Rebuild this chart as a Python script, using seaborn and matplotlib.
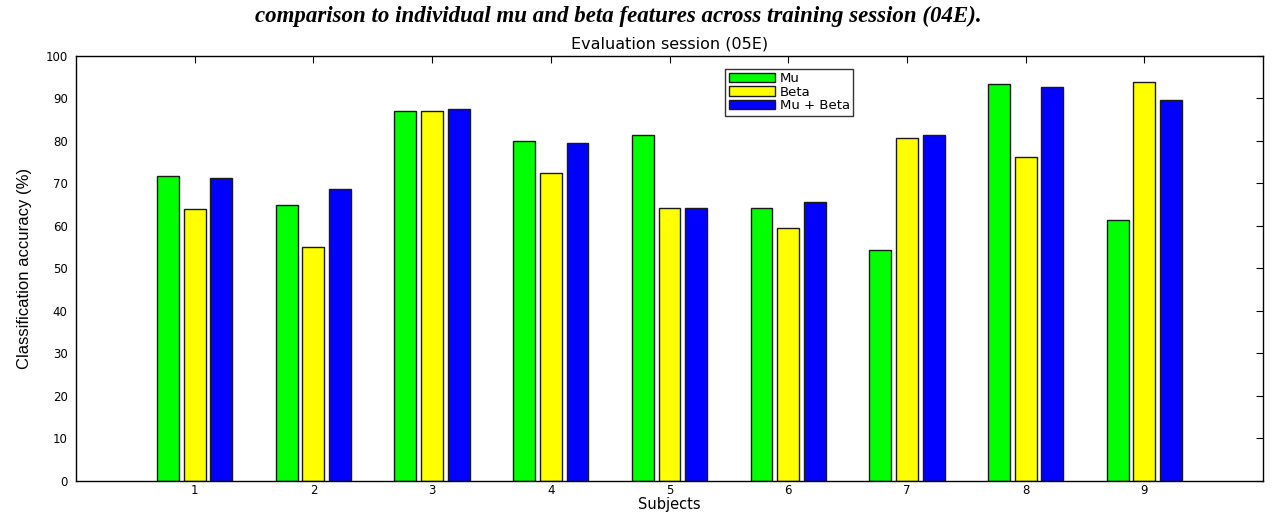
import numpy as np
import pandas as pd
import matplotlib
matplotlib.use("Agg")
import matplotlib.pyplot as plt
import seaborn as sns

subjects = ["1", "2", "3", "4", "5", "6", "7", "8", "9"]
mu = [71.8, 64.9, 87.1, 80.0, 81.3, 64.3, 54.4, 93.3, 61.3]
beta = [63.9, 55.1, 87.0, 72.5, 64.3, 59.4, 80.7, 76.2, 93.8]
mu_beta = [71.3, 68.8, 87.6, 79.6, 64.3, 65.7, 81.3, 92.6, 89.6]
series_names = ["Mu", "Beta", "Mu + Beta"]
colors = ["#00FF00", "#FFFF00", "#0000FF"]

df = pd.DataFrame({
    "Subject": subjects * 3,
    "Accuracy": mu + beta + mu_beta,
    "Feature": np.repeat(series_names, len(subjects)),
})

sns.set_theme(style="white")
plt.rcParams["font.family"] = ["DejaVu Sans"]
plt.rcParams["text.color"] = "black"
plt.rcParams["axes.labelcolor"] = "black"

fig = plt.figure(figsize=(12.75, 5.16), dpi=100)
ax = fig.add_axes([0.0596, 0.068, 0.931, 0.8236])

sns.barplot(data=df, x="Subject", y="Accuracy", hue="Feature",
            hue_order=series_names, palette=colors, order=subjects,
            width=0.675, gap=0.18, edgecolor="#1a1a1a", linewidth=1.0,
            saturation=1, errorbar=None, ax=ax)

ax.set_xlim(-1, 9)
ax.set_ylim(0, 100)
ax.set_yticks(np.arange(0, 101, 10))
ax.tick_params(axis="both", direction="in", length=5, width=0.8,
               top=True, right=True, labelsize=8.5, colors="black", pad=6)
ax.tick_params(axis="x", pad=2)
for s in ax.spines.values():
    s.set_color("black")
    s.set_linewidth(1.0)

ax.set_xlabel("Subjects", fontsize=10.5, labelpad=0, color="black")
ax.set_ylabel("Classification accuracy (%)", fontsize=12, labelpad=10,
              family="Liberation Sans", color="black")
ax.set_title("Evaluation session (05E)", fontsize=11.5, pad=5, color="black")

leg = ax.legend(loc="upper left", bbox_to_anchor=(0.547, 0.97),
                frameon=True, fancybox=False, fontsize=9.5,
                handlelength=3.5, handleheight=0.7, handletextpad=0.4,
                borderpad=0.25, labelspacing=0.05, borderaxespad=0)
leg.get_frame().set_edgecolor("black")
leg.get_frame().set_linewidth(1.0)
for t in leg.get_texts():
    t.set_color("black")

fig.text(0.485, 0.968,
         "comparison to individual mu and beta features across training session (04E).",
         ha="center", va="center", fontsize=16.5, fontweight="bold",
         fontstyle="italic", family="Liberation Serif", color="black")

fig.savefig("out.png", dpi=100)
